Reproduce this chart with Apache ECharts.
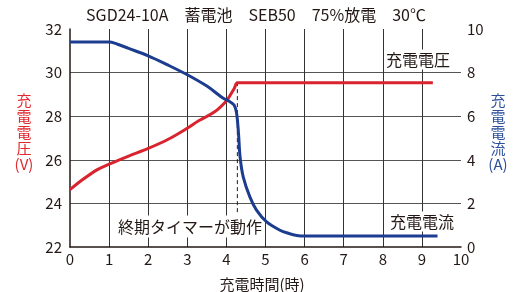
<!DOCTYPE html>
<html>
<head>
<meta charset="utf-8">
<script src="https://cdn.jsdelivr.net/npm/echarts@6/dist/echarts.min.js"></script>
<style>
  html, body { margin: 0; padding: 0; background: #fff; }
  #chart { width: 520px; height: 292px; }
</style>
</head>
<body>
<div id="chart"></div>
<script>
// 充電電圧 (V) - 左軸
const voltTime  = [0, 0.3, 0.7, 1, 1.5, 2, 2.5, 3, 3.3, 3.7, 4, 4.1, 4.2, 4.28, 4.4, 9.28];
const voltValue = [24.63, 25.06, 25.55, 25.8, 26.17, 26.52, 26.93, 27.45, 27.8, 28.2, 28.7, 28.97, 29.27, 29.53, 29.53, 29.53];

// 充電電流 (A) - 右軸
const currTime  = [0, 1.0, 1.2, 1.5, 2.0, 2.5, 3.0, 3.5, 3.9, 4.1, 4.2, 4.26, 4.31, 4.35, 4.43, 4.6, 4.77, 5.03, 5.37, 5.6, 5.8, 6.0, 9.4];
const currValue = [9.4, 9.4, 9.31, 9.11, 8.77, 8.35, 7.9, 7.38, 6.85, 6.65, 6.5, 6.15, 5.2, 4.13, 3.22, 2.3, 1.69, 1.15, 0.77, 0.62, 0.53, 0.5, 0.5];

// 終期タイマー動作位置（破線）
const timerTime = [4.28, 4.28];
const timerVolt = [23.6, 29.53];

const font = '"Noto Sans CJK JP", "Noto Sans", sans-serif';
const ink = '#231815';
const red = '#d9232e';
const blue = '#1c3d8f';

const zip = (xs, ys) => xs.map((x, i) => [x, ys[i]]);

const chart = echarts.init(document.getElementById('chart'));

chart.setOption({
  animation: false,
  grid: { left: 70, right: 59, top: 29, bottom: 45 },
  xAxis: {
    type: 'value',
    min: 0, max: 10, interval: 1,
    axisLine: { show: true, lineStyle: { color: ink, width: 1.5 } },
    axisTick: { show: false },
    axisLabel: { fontSize: 15, color: ink, margin: 5, fontFamily: font },
    splitLine: { show: true, showMinLine: false, showMaxLine: false, lineStyle: { color: '#333', width: 1 } }
  },
  yAxis: [
    {
      type: 'value',
      min: 22, max: 32, interval: 2,
      axisLine: { show: true, lineStyle: { color: ink, width: 1.5 } },
      axisTick: { show: false },
      axisLabel: { fontSize: 15, color: ink, margin: 8, fontFamily: font },
      splitLine: { show: true, showMinLine: false, showMaxLine: false, lineStyle: { color: '#555', width: 1 } }
    },
    {
      type: 'value',
      position: 'right',
      min: 0, max: 10, interval: 2,
      axisLine: { show: false },
      axisTick: { show: false },
      axisLabel: { fontSize: 15, color: ink, margin: 6, fontFamily: font },
      splitLine: { show: false }
    }
  ],
  series: [
    {
      name: '充電電圧',
      type: 'line',
      yAxisIndex: 0,
      data: zip(voltTime, voltValue),
      showSymbol: false,
      smooth: 0.35,
      lineStyle: { color: red, width: 3 },
      z: 3
    },
    {
      name: '充電電流',
      type: 'line',
      yAxisIndex: 1,
      data: zip(currTime, currValue),
      showSymbol: false,
      smooth: 0.35,
      lineStyle: { color: blue, width: 3 },
      z: 4
    },
    {
      name: '終期タイマー',
      type: 'line',
      yAxisIndex: 0,
      data: zip(timerTime, timerVolt),
      showSymbol: false,
      lineStyle: { color: ink, width: 1, type: [4, 3] },
      z: 2
    }
  ],
  graphic: [
    {
      type: 'text', x: 256, y: 15, z: 1,
      style: { text: 'SGD24-10A　蓄電池　SEB50　75%放電　30℃', font: '16px ' + font, fill: ink, align: 'center', verticalAlign: 'middle' }
    },
    {
      type: 'text', x: 418, y: 59.5, z: 1,
      style: { text: '充電電圧', font: '16px ' + font, fill: ink, align: 'center', verticalAlign: 'middle', backgroundColor: '#fff', padding: [2, 2] }
    },
    {
      type: 'text', x: 422, y: 221.5, z: 1,
      style: { text: '充電電流', font: '16px ' + font, fill: ink, align: 'center', verticalAlign: 'middle', backgroundColor: '#fff', padding: [2, 2] }
    },
    {
      type: 'text', x: 190, y: 226.5, z: 1,
      style: { text: '終期タイマーが動作', font: '16px ' + font, fill: ink, align: 'center', verticalAlign: 'middle', backgroundColor: '#fff', padding: [3, 2] }
    },
    {
      type: 'text', x: 262, y: 284.5, z: 1,
      style: { text: '充電時間(時)', font: '15px ' + font, fill: ink, align: 'center', verticalAlign: 'middle' }
    },
    {
      type: 'text', x: 24, y: 132, z: 1,
      style: { text: '充\n電\n電\n圧\n(V)', font: '15px ' + font, lineHeight: 16, fill: '#e0282f', align: 'center', verticalAlign: 'middle' }
    },
    {
      type: 'text', x: 498, y: 132, z: 1,
      style: { text: '充\n電\n電\n流\n(A)', font: '15px ' + font, lineHeight: 16, fill: '#2d4f9c', align: 'center', verticalAlign: 'middle' }
    }
  ]
});
</script>
</body>
</html>
